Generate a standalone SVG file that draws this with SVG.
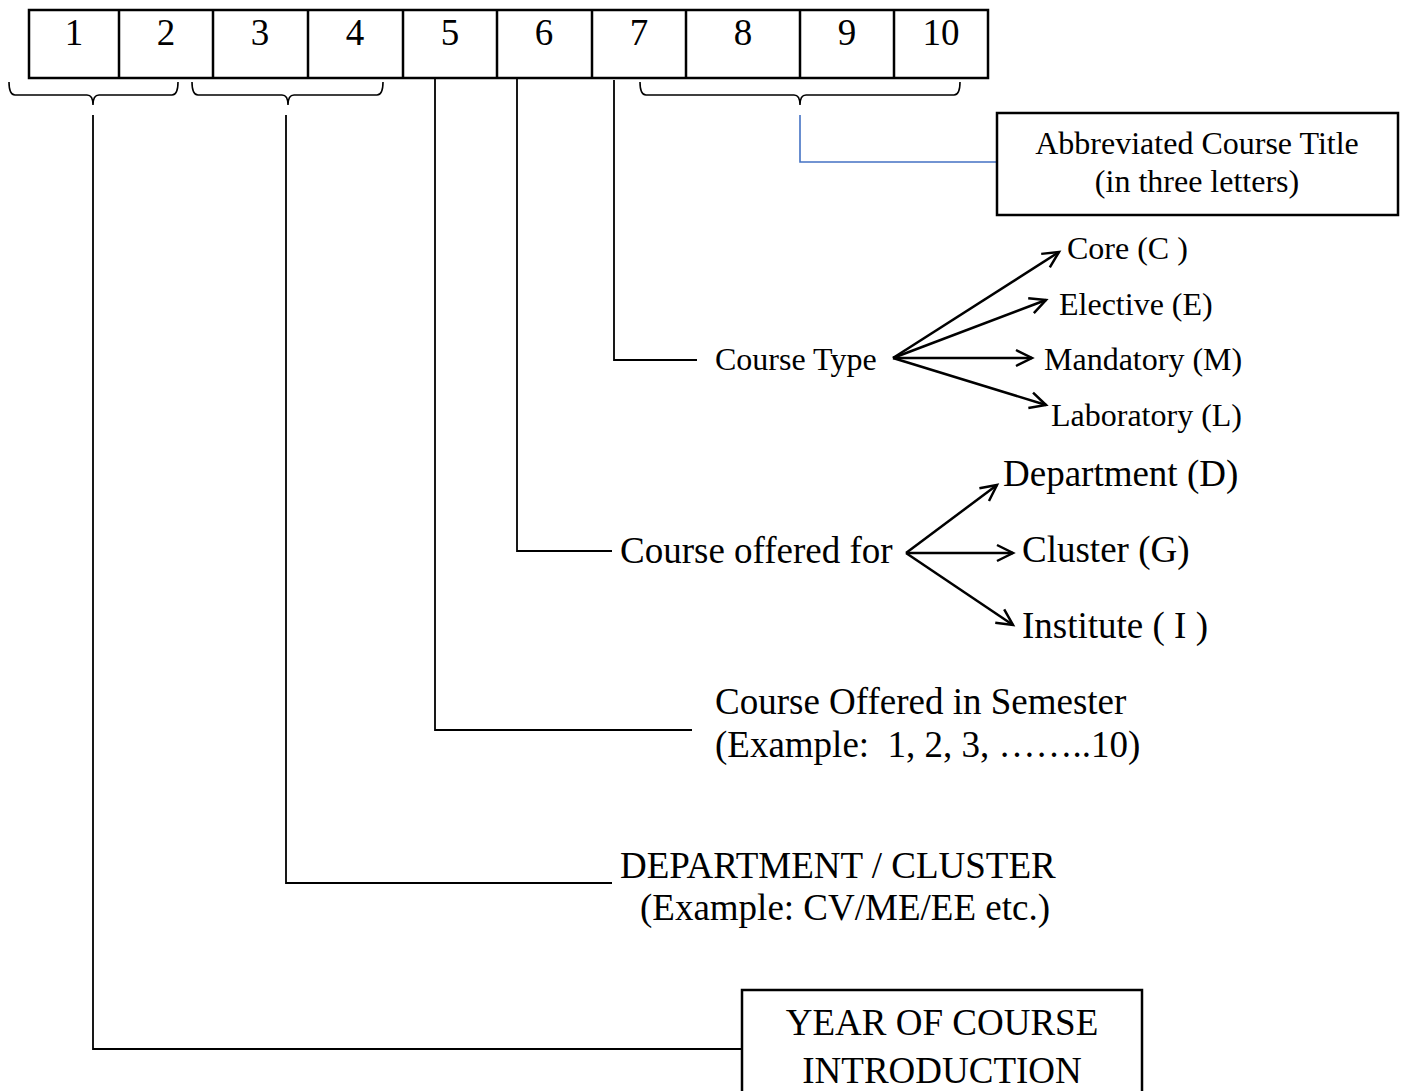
<svg xmlns="http://www.w3.org/2000/svg" width="1404" height="1091" viewBox="0 0 1404 1091">
<defs>
<style>
text{font-family:"Liberation Serif","Times New Roman",serif;fill:#000;white-space:pre}
.big{font-size:37px}
.mid{font-size:32px}
.sm{font-size:32px}
.box{fill:#fff;stroke:#000;stroke-width:2.5}
.ln{fill:none;stroke:#000;stroke-width:1.8}
.br{fill:none;stroke:#000;stroke-width:1.6}
.arr{fill:none;stroke:#000;stroke-width:2.5;marker-end:url(#ah)}
</style>
<marker id="ah" viewBox="0 0 22 22" refX="19" refY="11" markerWidth="22" markerHeight="22" markerUnits="userSpaceOnUse" orient="auto">
<path d="M3,3 L19,11 L3,19" fill="none" stroke="#000" stroke-width="2.5"/>
</marker>
</defs>
<rect width="1404" height="1091" fill="#fff"/>

<g id="code-row">
<rect class="box" x="29" y="10" width="959" height="68"/>
<path class="ln" style="stroke-width:2.5" d="M119,10V78M213,10V78M308,10V78M403,10V78M497,10V78M592,10V78M686,10V78M800,10V78M894,10V78"/>
<g class="big" text-anchor="middle">
<text x="74" y="45">1</text>
<text x="166" y="45">2</text>
<text x="260" y="45">3</text>
<text x="355" y="45">4</text>
<text x="450" y="45">5</text>
<text x="544" y="45">6</text>
<text x="639" y="45">7</text>
<text x="743" y="45">8</text>
<text x="847" y="45">9</text>
<text x="941" y="45">10</text>
</g>
</g>

<g id="braces">
<path class="br" d="M9,82 Q9,95 15,95 L87,95 Q93,95 93,105 Q93,95 99,95 L172,95 Q178,95 178,82"/>
<path class="br" d="M192,82 Q192,95 198,95 L282,95 Q288,95 288,105 Q288,95 294,95 L377,95 Q383,95 383,82"/>
<path class="br" d="M640,82 Q640,95 646,95 L794,95 Q800,95 800,105 Q800,95 806,95 L954,95 Q960,95 960,82"/>
</g>

<g id="connectors">
<path class="ln" d="M93,115V1049H742"/>
<path class="ln" d="M286,115V883H612"/>
<path class="ln" d="M435,78V730H692"/>
<path class="ln" d="M517,78V551H612"/>
<path class="ln" d="M614,80V360H697"/>
<path fill="none" stroke="#4472C4" stroke-width="1.6" d="M800,115V162H997"/>
<path class="arr" d="M893,358L1059,252"/>
<path class="arr" d="M893,358L1046,300"/>
<path class="arr" d="M893,358L1032,358"/>
<path class="arr" d="M893,358L1046,405"/>
<path class="arr" d="M906,553L997,485"/>
<path class="arr" d="M906,553L1013,553"/>
<path class="arr" d="M906,553L1013,625"/>
</g>

<g id="abbrev-title">
<rect class="box" x="997" y="113" width="401" height="102"/>
<text class="mid" x="1197" y="154" text-anchor="middle">Abbreviated Course Title</text>
<text class="mid" x="1197" y="192" text-anchor="middle">(in three letters)</text>
</g>

<g id="course-type">
<text class="sm" x="715" y="370">Course Type</text>
</g>
<g id="core"><text class="sm" x="1067" y="259">Core (C )</text></g>
<g id="elective"><text class="sm" x="1059" y="315">Elective (E)</text></g>
<g id="mandatory"><text class="sm" x="1044" y="370">Mandatory (M)</text></g>
<g id="laboratory"><text class="sm" x="1051" y="426">Laboratory (L)</text></g>

<g id="course-offered-for">
<text class="big" x="620" y="563">Course offered for</text>
</g>
<g id="department"><text class="big" x="1003" y="486">Department (D)</text></g>
<g id="cluster"><text class="big" x="1022" y="562">Cluster (G)</text></g>
<g id="institute"><text class="big" x="1022" y="638">Institute ( I )</text></g>

<g id="semester">
<text class="big" x="715" y="714">Course Offered in Semester</text>
<text class="big" x="715" y="757">(Example:  1, 2, 3, ……..10)</text>
</g>

<g id="dept-cluster">
<text class="big" x="620" y="878">DEPARTMENT / CLUSTER</text>
<text class="big" x="640" y="920">(Example: CV/ME/EE etc.)</text>
</g>

<g id="year">
<rect class="box" x="742" y="990" width="400" height="120"/>
<text class="big" x="942" y="1035" text-anchor="middle">YEAR OF COURSE</text>
<text class="big" x="942" y="1083" text-anchor="middle">INTRODUCTION</text>
</g>
</svg>
